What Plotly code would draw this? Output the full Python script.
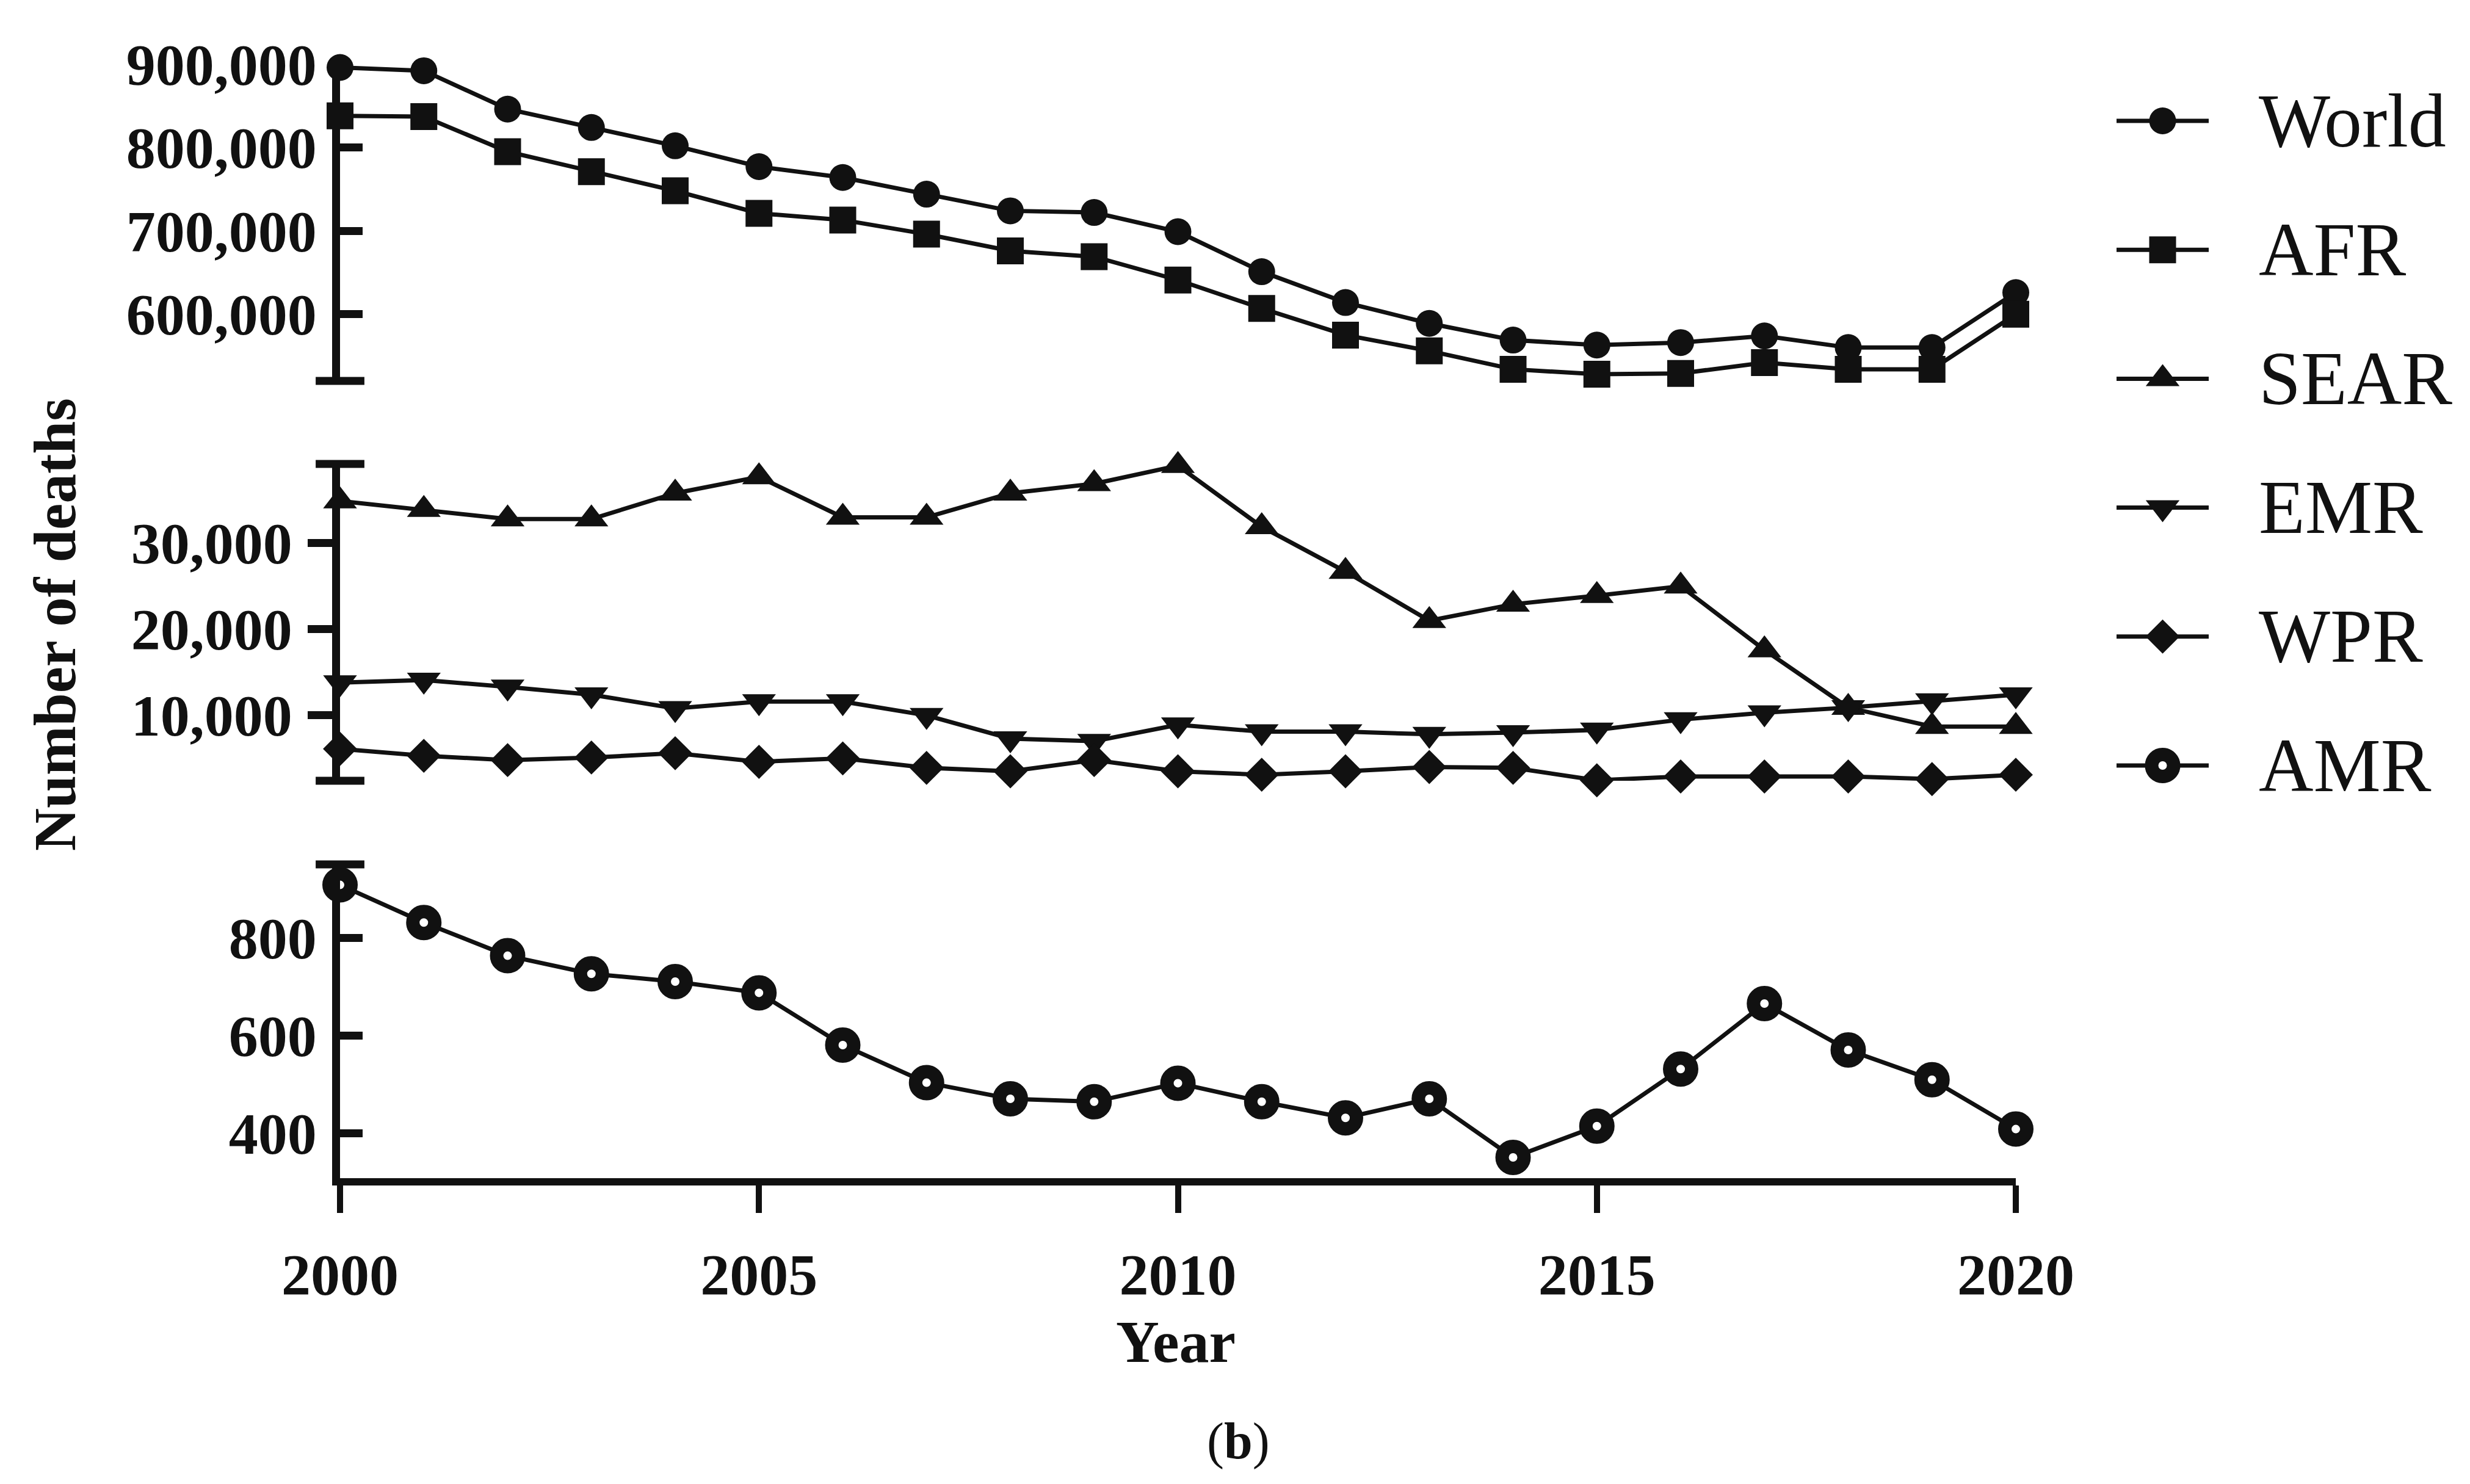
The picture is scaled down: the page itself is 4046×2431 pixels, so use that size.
import plotly.graph_objects as go

# ---------------- data ----------------
years = list(range(2000, 2021))
world = [896000, 892000, 846000, 824000, 802000, 777000, 764000, 744000, 724000, 722000,
         699000, 651000, 614000, 589000, 569000, 563000, 566000, 574000, 560000, 560000, 626000]
afr = [838000, 837000, 795000, 771000, 748000, 721000, 713000, 696000, 676000, 669000,
       641000, 607000, 575000, 556000, 534000, 528000, 529000, 542000, 534000, 534000, 600000]
sear = [34900, 33900, 32800, 32800, 35800, 37700, 33000, 33000, 35800, 36900,
        39000, 31900, 26700, 21000, 22900, 23900, 25000, 17600, 10900, 8700, 8700]
emr = [13800, 14100, 13300, 12400, 10800, 11600, 11600, 10000, 7300, 7000,
       8900, 8100, 8100, 7800, 8000, 8300, 9500, 10300, 10900, 11700, 12400]
wpr = [6100, 5300, 4800, 5100, 5600, 4600, 5000, 3900, 3500, 4800,
       3500, 3100, 3500, 4000, 3900, 2450, 2900, 2900, 2900, 2600, 3100]
amr = [908, 831, 763, 726, 710, 687, 580, 503, 470, 464,
       502, 464, 431, 470, 350, 414, 531, 665, 570, 509, 408]

series_names = ["World", "AFR", "SEAR", "EMR", "WPR", "AMR"]
x_ticks = [2000, 2005, 2010, 2015, 2020]
top_ticks = [600000, 700000, 800000, 900000]
mid_ticks = [10000, 20000, 30000]
bot_ticks = [400, 600, 800]
top_range = [520000, 900000]
mid_range = [2400, 39200]
bot_range = [307.5, 950]

# ---------------- layout helpers ----------------
W, H = 4046, 2431
def fx(p):
    return p / W
def fy(p):
    return 1 - p / H

FONT = "Liberation Serif"
BLACK = "#111111"
LW = 7

styles = {
    "World": dict(symbol="circle", size=44, color=BLACK, line=dict(width=0)),
    "AFR": dict(symbol="square", size=44, color=BLACK, line=dict(width=0)),
    "SEAR": dict(symbol="triangle-up", size=48, color=BLACK, line=dict(width=0)),
    "EMR": dict(symbol="triangle-down", size=48, color=BLACK, line=dict(width=0)),
    "WPR": dict(symbol="diamond", size=43, color=BLACK, line=dict(width=0)),
    "AMR": dict(symbol="circle", size=36, color="white", line=dict(width=22, color=BLACK)),
}

fig = go.Figure()

def add_series(name, vals, xa, ya):
    fig.add_trace(go.Scatter(
        x=years, y=vals, mode="lines+markers", name=name,
        line=dict(color=BLACK, width=LW), marker=styles[name],
        xaxis=xa, yaxis=ya, cliponaxis=False, showlegend=False))

# top panel (x3/y3)
add_series("World", world, "x3", "y3")
add_series("AFR", afr, "x3", "y3")
# middle panel (x2/y2)
add_series("SEAR", sear, "x2", "y2")
add_series("EMR", emr, "x2", "y2")
add_series("WPR", wpr, "x2", "y2")
# bottom panel (x/y)
add_series("AMR", amr, "x", "y")

# end caps of the broken axis segments
cap_marker = dict(symbol="line-ew", size=57, line=dict(width=13, color=BLACK), color=BLACK)
for xa, ya, vals in [("x3", "y3", [top_range[0]]),
                     ("x2", "y2", [mid_range[0], mid_range[1]]),
                     ("x", "y", [bot_range[1]])]:
    fig.add_trace(go.Scatter(x=[years[0]] * len(vals), y=vals, mode="markers",
                             marker=cap_marker, xaxis=xa, yaxis=ya,
                             cliponaxis=False, showlegend=False, hoverinfo="skip"))

# custom legend (x4/y4): line segment with marker in the middle
for i, name in enumerate(series_names):
    fig.add_trace(go.Scatter(x=[0, 1], y=[i, i], mode="lines",
                             line=dict(color=BLACK, width=LW),
                             xaxis="x4", yaxis="y4", showlegend=False, hoverinfo="skip"))
    fig.add_trace(go.Scatter(x=[0.5], y=[i], mode="markers", marker=styles[name],
                             xaxis="x4", yaxis="y4", cliponaxis=False,
                             showlegend=False, hoverinfo="skip"))

XDOM = [fx(549), fx(3294)]
tickfont = dict(family=FONT, size=96, color=BLACK, weight="bold")

common_y = dict(showgrid=False, zeroline=False, showline=True, linecolor=BLACK,
                linewidth=13, tickcolor=BLACK, tickwidth=13, tickfont=tickfont,
                tickformat=",d", fixedrange=True, automargin=False)

fig.update_layout(
    template="none",
    width=W, height=H,
    margin=dict(l=0, r=0, t=0, b=0, autoexpand=False),
    paper_bgcolor="white", plot_bgcolor="rgba(0,0,0,0)",
    showlegend=False,
    font=dict(family=FONT, color=BLACK),
    xaxis=dict(domain=XDOM, anchor="y", range=[2000, 2020], tickvals=x_ticks,
               showgrid=False, zeroline=False, showline=True, linecolor=BLACK,
               linewidth=12, ticks="outside", ticklen=45, tickwidth=10,
               tickcolor=BLACK, tickfont=tickfont, ticklabelstandoff=19,
               automargin=False),
    xaxis2=dict(domain=XDOM, anchor="y2", range=[2000, 2020], visible=False, automargin=False),
    xaxis3=dict(domain=XDOM, anchor="y3", range=[2000, 2020], visible=False, automargin=False),
    yaxis=dict(domain=[fy(1922), fy(1408)], anchor="x", range=bot_range,
               tickvals=bot_ticks, ticks="inside", ticklen=37,
               ticklabelstandoff=6, **common_y),
    yaxis2=dict(domain=[fy(1271), fy(752)], anchor="x2", range=mid_range,
                tickvals=mid_ticks, ticks="outside", ticklen=40,
                ticklabelstandoff=6, **common_y),
    yaxis3=dict(domain=[fy(616), fy(97)], anchor="x3", range=top_range,
                tickvals=top_ticks, ticks="inside", ticklen=37,
                ticklabelstandoff=6, **common_y),
    xaxis4=dict(domain=[fx(3459), fx(3610)], anchor="y4", range=[0, 1], visible=False,
                automargin=False),
    yaxis4=dict(domain=[fy(190 + 5.2 * 211.2), fy(190 - 0.2 * 211.2)], anchor="x4",
                range=[5.2, -0.2], visible=False, automargin=False),
)

annotations = []
for i, name in enumerate(series_names):
    annotations.append(dict(x=fx(3690), xref="paper", y=i, yref="y4",
                            text=name, showarrow=False, xanchor="left", yanchor="middle",
                            font=dict(family=FONT, size=124, color=BLACK)))
annotations.append(dict(x=fx(82), y=fy(1015), xref="paper", yref="paper",
                        text="Number of deaths", textangle=-90, showarrow=False,
                        xanchor="center", yanchor="middle",
                        font=dict(family=FONT, size=97, color=BLACK, weight="bold")))
annotations.append(dict(x=fx(1918), y=fy(2190), xref="paper", yref="paper",
                        text="Year", showarrow=False, xanchor="center", yanchor="middle",
                        font=dict(family=FONT, size=98, color=BLACK, weight="bold")))
annotations.append(dict(x=fx(2020), y=fy(2353), xref="paper", yref="paper",
                        text="(<b>b</b>)", showarrow=False, xanchor="center", yanchor="middle",
                        font=dict(family=FONT, size=84, color=BLACK, weight="normal")))
fig.update_layout(annotations=annotations)

fig.write_html("out.html")
